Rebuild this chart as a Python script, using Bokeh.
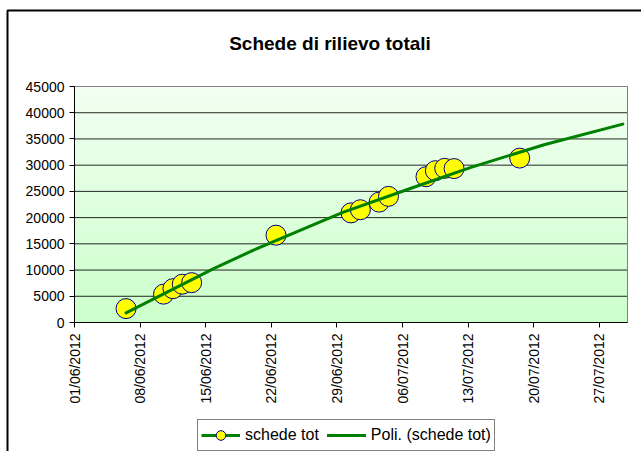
import math
import numpy as np
from datetime import datetime
from bokeh.plotting import figure
from bokeh.models import (FixedTicker, DatetimeTickFormatter, Legend, LegendItem,
                          Range1d, NumeralTickFormatter, BoxAnnotation, Label)
from bokeh.embed import file_html
from bokeh.resources import INLINE

# ---------------- data ----------------
dates = ["06/06/2012", "10/06/2012", "11/06/2012", "12/06/2012", "13/06/2012",
         "22/06/2012", "30/06/2012", "01/07/2012", "03/07/2012", "04/07/2012",
         "08/07/2012", "09/07/2012", "10/07/2012", "11/07/2012", "18/07/2012"]
values = [2650, 5400, 6450, 7300, 7600,
          16650, 20900, 21500, 22950, 24050,
          27800, 28950, 29400, 29350, 31350]

# polynomial trend line (days after 01/06/2012, value)
trend_days = [5.5, 14.9, 19.1, 25.2, 28.7, 35.9, 42.3, 50.1, 58.5]
trend_values = [1830, 10320, 13800, 18440, 21030, 25600, 29580, 33900, 37830]

x_tick_labels = ["01/06/2012", "08/06/2012", "15/06/2012", "22/06/2012", "29/06/2012",
                 "06/07/2012", "13/07/2012", "20/07/2012", "27/07/2012"]
y_ticks = [0, 5000, 10000, 15000, 20000, 25000, 30000, 35000, 40000, 45000]
x_axis_start = "01/06/2012"
x_axis_end = "30/07/2012"

title_text = "Schede di rilievo totali"
series_name = "schede tot"
trend_name = "Poli. (schede tot)"

# ---------------- layout (pixels on the 641x451 canvas) ----------------
W, H = 641, 451
PA_LEFT, PA_RIGHT, PA_TOP, PA_BOTTOM = 74, 627, 86, 322   # plot area
BORDER_X, BORDER_Y = 7.0, 10.0                          # outer chart border
TITLE_CX, TITLE_BASE = 329.5, 43
LEGEND_LEFT, LEGEND_BOTTOM_FROM_EDGE = 197, 0

DAY_MS = 86400000.0
EPOCH = datetime(1970, 1, 1)


def to_ms(s):
    return (datetime.strptime(s, "%d/%m/%Y") - EPOCH).total_seconds() * 1000.0


start_ms = to_ms(x_axis_start)
end_ms = to_ms(x_axis_end)
y0, y1 = y_ticks[0], y_ticks[-1]
sx = (end_ms - start_ms) / (PA_RIGHT - PA_LEFT)      # ms per pixel
sy = (y1 - y0) / (PA_BOTTOM - PA_TOP)                # value per pixel


def xd(px):
    return start_ms + (px - PA_LEFT) * sx


def yd(py):
    return y0 + (PA_BOTTOM - py) * sy


# Excel date axis places each point in the middle of its day
x_pts = [to_ms(d) + DAY_MS / 2 for d in dates]
x_tr = [start_ms + d * DAY_MS for d in trend_days]

FONT = "Liberation Sans"

p = figure(width=W, height=H, output_backend="svg", toolbar_location=None,
           x_axis_type="datetime",
           x_range=Range1d(xd(0), xd(W)), y_range=Range1d(yd(H), yd(0)),
           min_border_left=0, min_border_right=0, min_border_top=0, min_border_bottom=0)
p.title.visible = False
p.background_fill_color = "#FFFFFF"
p.border_fill_color = "#FFFFFF"
p.outline_line_color = None

# vertical gradient background of the plot area
N = 64
img = np.empty((N, 1), dtype=np.uint32)
view = img.view(dtype=np.uint8).reshape((N, 1, 4))
bot = np.array([204, 255, 204])
top = np.array([242, 255, 242])
for i in range(N):
    f = i / (N - 1)
    c = bot + (top - bot) * f
    view[i, 0, 0] = int(c[0]); view[i, 0, 1] = int(c[1]); view[i, 0, 2] = int(c[2]); view[i, 0, 3] = 255
p.image_rgba(image=[img], x=start_ms, y=y0, dw=end_ms - start_ms, dh=y1 - y0, level="image")

# horizontal grid lines limited to the plot area
p.xgrid.visible = False
p.ygrid.visible = False
inner = y_ticks[1:-1]
p.segment(x0=[start_ms] * len(inner), x1=[end_ms] * len(inner), y0=inner, y1=inner,
          line_color="#000000", line_alpha=0.85, line_width=1, level="underlay")

# plot area border (grey)
p.quad(left=[start_ms], right=[end_ms], bottom=[y0], top=[y1],
       fill_color=None, line_color="#808080", line_width=1, level="underlay")

# axes, drawn at the plot area edges
x_ticks = [to_ms(s) for s in x_tick_labels]
p.xaxis.ticker = FixedTicker(ticks=x_ticks)
fmt = "%d/%m/%Y"
p.xaxis.formatter = DatetimeTickFormatter(microseconds=fmt, milliseconds=fmt, seconds=fmt,
                                          minsec=fmt, minutes=fmt, hourmin=fmt, hours=fmt,
                                          days=fmt, months=fmt, years=fmt)
p.xaxis.major_label_orientation = math.pi / 2
p.xaxis.fixed_location = y0
p.xaxis.bounds = (start_ms, end_ms)
p.yaxis.ticker = FixedTicker(ticks=y_ticks)
p.yaxis.formatter = NumeralTickFormatter(format="0")
p.yaxis.fixed_location = start_ms
p.yaxis.bounds = (y0, y1)
for ax in (p.xaxis[0], p.yaxis[0]):
    ax.major_label_text_font = FONT
    ax.major_label_text_font_size = "14px"
    ax.major_label_text_color = "#000000"
    ax.axis_line_color = "#000000"
    ax.major_tick_line_color = "#000000"
    ax.major_tick_in = 0
    ax.major_tick_out = 5
    ax.minor_tick_line_color = None
    ax.major_label_standoff = 5
p.xaxis.major_label_standoff = 6

# series (line only used for the legend glyph, Excel series has no visible line)
r_line = p.line(x_pts, values, line_color="#008000", line_width=3, visible=False)
r_pts = p.scatter(x_pts, values, size=20, marker="circle", fill_color="#FFFF00",
                  line_color="#000080", line_width=1)
r_trend = p.line(x_tr, trend_values, line_color="#008000", line_width=3,
                 line_join="round", line_cap="round")

# title
p.add_layout(Label(x=xd(TITLE_CX), y=yd(TITLE_BASE), text=title_text,
                   text_align="center", text_baseline="alphabetic",
                   text_font=FONT, text_font_size="19px", text_font_style="bold",
                   text_color="#000000"))

# outer chart border (its top and left edges are in the picture)
p.add_layout(BoxAnnotation(left=xd(BORDER_X), right=xd(W + 50), top=yd(BORDER_Y),
                           bottom=yd(H + 50), fill_alpha=0, fill_color=None,
                           line_color="#000000", line_alpha=1.0,
                           line_width=2, level="overlay"))

legend = Legend(items=[LegendItem(label=series_name, renderers=[r_line, r_pts]),
                       LegendItem(label=trend_name, renderers=[r_trend])],
                orientation="horizontal", location=(LEGEND_LEFT, LEGEND_BOTTOM_FROM_EDGE),
                label_text_font=FONT, label_text_font_size="16px", label_text_color="#000000",
                border_line_color="#000000", border_line_width=1,
                background_fill_color="#FFFFFF", background_fill_alpha=1,
                glyph_width=39, glyph_height=24, label_standoff=5, spacing=8,
                padding=3, margin=0)
p.add_layout(legend, "center")

open("out.html", "w").write(file_html(p, INLINE))
